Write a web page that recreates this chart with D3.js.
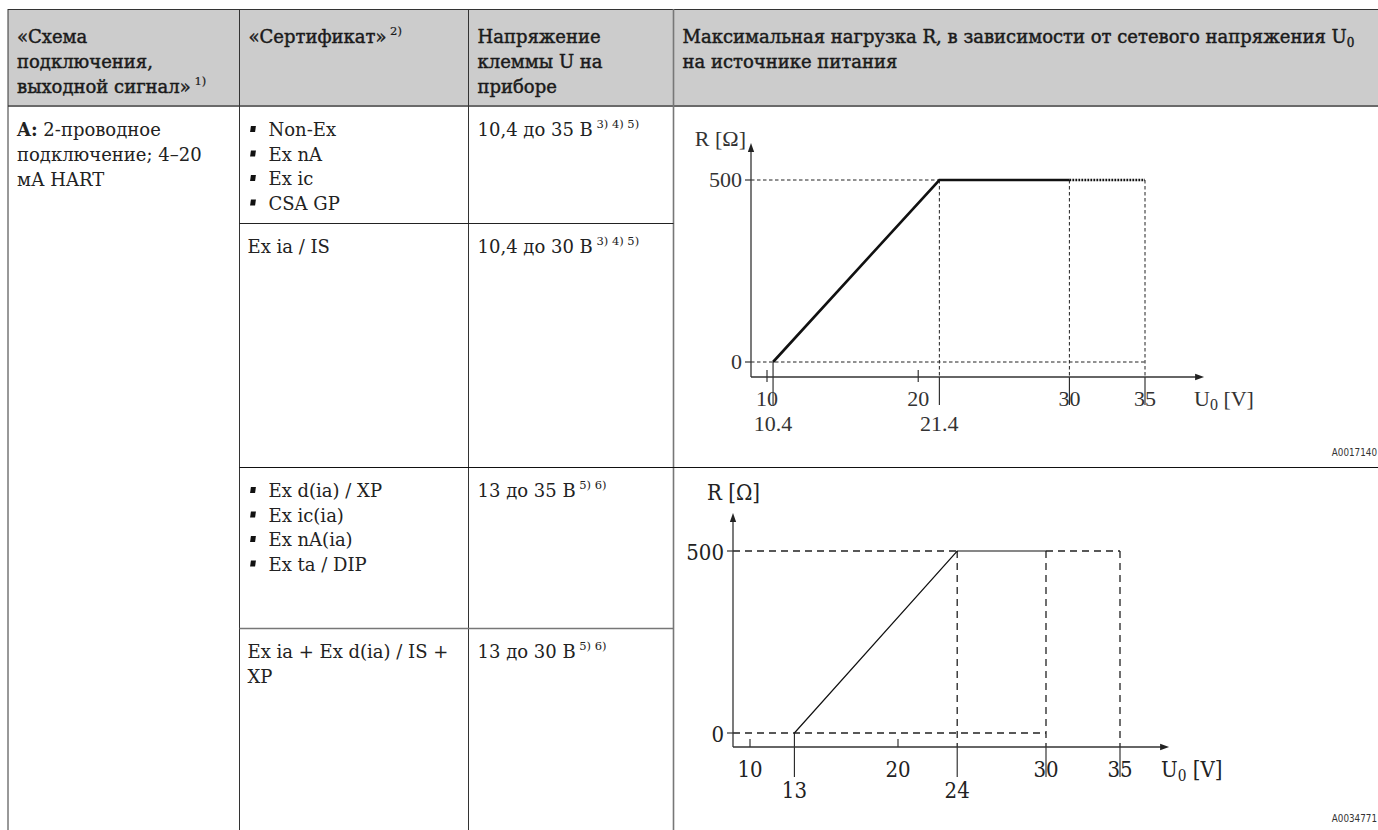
<!DOCTYPE html>
<html><head><meta charset="utf-8">
<script src="https://cdn.jsdelivr.net/npm/d3@7"></script>
<style>
html,body{margin:0;padding:0;background:#fff;}
svg{display:block;}
.tx{font-family:"DejaVu Serif",serif;font-size:18px;fill:#222;}
.hd{font-size:18px;fill:#1a1a1a;stroke:#1a1a1a;stroke-width:0.45px;}
.c1{font-family:"Liberation Serif","Times New Roman",serif;font-size:22px;fill:#333;}
.c2{font-family:"DejaVu Serif",serif;font-size:23px;fill:#222;}
</style></head><body>
<svg id="chart" width="1378" height="830"></svg>
<script>
// ---------- data ----------
const headers = [
  ["«Схема", "подключения,", "выходной сигнал»|1)"],
  ["«Сертификат»|2)"],
  ["Напряжение", "клеммы U на", "приборе"],
  ["Максимальная нагрузка R, в зависимости от сетевого напряжения U|0", "на источнике питания"]
];
const connection = ["A:| 2-проводное", "подключение; 4–20", "мА HART"];
const certificates = [
  {items: ["Non-Ex", "Ex nA", "Ex ic", "CSA GP"], bullets: true},
  {items: ["Ex ia / IS"], bullets: false},
  {items: ["Ex d(ia) / XP", "Ex ic(ia)", "Ex nA(ia)", "Ex ta / DIP"], bullets: true},
  {items: ["Ex ia + Ex d(ia) / IS +", "XP"], bullets: false}
];
const voltages = [
  ["10,4 до 35 В", "3)  4) 5)"],
  ["10,4 до 30 В", "3) 4) 5)"],
  ["13 до 35 В", "5) 6)"],
  ["13 до 30 В", "5) 6)"]
];
// chart 1
const c1TickMajor = [10, 20, 30, 35];
const c1TickMarks = [10.4, 21.4];
const c1Y = [0, 500];
const c1Curve = [[10.4, 0], [21.4, 500], [30, 500]];
const c1Dotted = [[30, 500], [35, 500]];
const c1Code = "A0017140";
// chart 2
const c2TickMajor = [10, 20, 30, 35];
const c2TickMarks = [13, 24];
const c2Y = [0, 500];
const c2Curve = [[13, 0], [24, 500], [30, 500]];
const c2Code = "A0034771";

// ---------- layout ----------
const svg = d3.select("#chart");
const colX = [8, 239.5, 468.5, 673.5];
const headTop = 9, headBot = 106;
const rowY = [106, 223, 467, 628, 830];

svg.append("rect").attr("x", colX[0]).attr("y", headTop).attr("width", 1378 - colX[0]).attr("height", headBot - headTop).attr("fill", "#cccccc");
svg.append("line").attr("x1", colX[0]).attr("x2", 1378).attr("y1", headTop + 0.5).attr("y2", headTop + 0.5).attr("stroke", "#333").attr("stroke-width", 1);
svg.append("line").attr("x1", colX[0]).attr("x2", 1378).attr("y1", headBot).attr("y2", headBot).attr("stroke", "#6a6a6a").attr("stroke-width", 2);
colX.forEach((x, i) => {
  svg.append("line").attr("x1", x).attr("x2", x).attr("y1", headTop).attr("y2", 830)
    .attr("stroke", i === 3 ? "#777" : "#333").attr("stroke-width", i === 3 ? 1.6 : 1);
});
[[1, rowY[1], colX[1], colX[3], "#222", 1], [2, rowY[2], colX[1], 1378, "#111", 1.2], [3, rowY[3], colX[1], colX[3], "#777", 1.6]].forEach(d => {
  svg.append("line").attr("x1", d[2]).attr("x2", d[3]).attr("y1", d[1] + 0.5).attr("y2", d[1] + 0.5)
    .attr("stroke", d[4]).attr("stroke-width", d[5]);
});

function textLine(x, y, s, cls) {
  const parts = s.split("|");
  const t = svg.append("text").attr("class", cls).attr("x", x).attr("y", y);
  t.append("tspan").text(parts[0]);
  if (parts.length > 1) t.append("tspan").attr("font-size", 11.5).attr("stroke-width", 0.2).attr("dy", -8).text("\u00a0" + parts[1]);
  return t;
}

// header text
const hlh = 25;
headers.forEach((lines, i) => {
  lines.forEach((s, j) => {
    const y = 43 + j * hlh, x = colX[i] + 9;
    if (i === 3 && j === 0) {
      const parts = s.split("|");
      const t = svg.append("text").attr("class", "tx hd").attr("x", x).attr("y", y);
      t.append("tspan").text(parts[0]);
      t.append("tspan").attr("font-size", 12).attr("dy", 4).text(parts[1]);
    } else textLine(x, y, s, "tx hd");
  });
});

// connection cell
const blh = 25;
connection.forEach((s, j) => {
  const t = svg.append("text").attr("class", "tx").attr("x", colX[0] + 9).attr("y", 136 + j * blh);
  const parts = s.split("|");
  if (parts.length > 1) {
    t.append("tspan").attr("font-weight", "bold").text(parts[0]);
    t.append("tspan").text(parts[1]);
  } else t.text(s);
});

// certificates + voltages
certificates.forEach((c, i) => {
  const y0 = rowY[i] + 30;
  const step = 24.5;
  c.items.forEach((s, j) => {
    const y = y0 + j * step;
    if (c.bullets) {
      svg.append("rect").attr("x", colX[1] + 11).attr("y", y - 10).attr("width", 5).attr("height", 6).attr("fill", "#111")
        .attr("transform", `skewX(-8)`).attr("transform-origin", `${colX[1] + 13} ${y - 7}`);
      svg.append("text").attr("class", "tx").attr("x", colX[1] + 29).attr("y", y).text(s);
    } else {
      svg.append("text").attr("class", "tx").attr("x", colX[1] + 8).attr("y", y).text(s);
    }
  });
  const v = voltages[i];
  const t = svg.append("text").attr("class", "tx").attr("x", colX[2] + 9).attr("y", y0);
  t.append("tspan").text(v[0]);
  t.append("tspan").attr("font-size", 11.5).attr("dy", -8).text("\u00a0" + v[1]);
});

// ---------- chart helper ----------
svg.append("defs").append("marker").attr("id", "arr").attr("viewBox", "0 0 10 10").attr("refX", 1).attr("refY", 5)
  .attr("markerWidth", 12).attr("markerHeight", 9).attr("markerUnits", "userSpaceOnUse").attr("orient", "auto")
  .append("path").attr("d", "M0,1.5 L10,5 L0,8.5 Z").attr("fill", "#222");

function drawChart(cfg) {
  const g = svg.append("g");
  const x = d3.scaleLinear().domain([10, 35]).range(cfg.xr);
  const y = d3.scaleLinear().domain([0, 500]).range(cfg.yr);
  const ax = cfg.axisX, ay = cfg.axisY;
  const ln = (x1, y1, x2, y2, st) => {
    const l = g.append("line").attr("x1", x1).attr("y1", y1).attr("x2", x2).attr("y2", y2)
      .attr("stroke", st.c || "#222").attr("stroke-width", st.w || 1);
    if (st.d) l.attr("stroke-dasharray", st.d);
    return l;
  };
  const dash = {c: "#222", w: cfg.dashW, d: cfg.dash};
  const solid = {c: "#222", w: 1.1};
  ln(ax, y(500), x(cfg.marks[1]), y(500), dash);
  ln(ax, y(0), x(cfg.zeroTo), y(0), dash);
  if (cfg.topRight) ln(x(30), y(500), x(35), y(500), dash);
  [cfg.marks[1], 30, 35].forEach(v => ln(x(v), y(500), x(v), ay, dash));
  ln(x(cfg.marks[0]), y(0), x(cfg.marks[0]), ay + cfg.longTick, solid);
  [cfg.marks[1], 30, 35].forEach(v => ln(x(v), ay, x(v), ay + cfg.longTick, solid));
  cfg.major.filter(v => v < 30).forEach(v => ln(x(v), ay - cfg.shortUp, x(v), ay + cfg.shortDown, solid));
  cfg.yv.forEach(v => ln(ax - 6, y(v), ax, y(v), solid));
  ln(ax, ay, ax, cfg.yTop + 9, {c: "#333", w: 1.3}).attr("marker-end", "url(#arr)");
  ln(ax, ay, cfg.xEnd - 9, ay, {c: "#333", w: 1.3}).attr("marker-end", "url(#arr)");
  const line = d3.line().x(d => x(d[0])).y(d => y(d[1]));
  g.append("path").attr("d", line(cfg.curve)).attr("fill", "none").attr("stroke", "#111").attr("stroke-width", cfg.curveW);
  if (cfg.dotted) g.append("path").attr("d", line(cfg.dotted)).attr("fill", "none").attr("stroke", "#111").attr("stroke-width", cfg.curveW).attr("stroke-dasharray", "1.8,1.2");
  const lbl = (px, py, s, anchor) => g.append("text").attr("class", cfg.cls)
    .attr("transform", `translate(${px},${py}) scale(${cfg.sx},1)`).attr("text-anchor", anchor || "middle").text(s);
  lbl(cfg.rLabel[0], cfg.rLabel[1], "R [Ω]", cfg.rLabel[2]);
  cfg.yv.forEach(v => lbl(ax - 9, y(v) + cfg.yOff, v, "end"));
  cfg.major.forEach(v => lbl(x(v), cfg.row1, v));
  cfg.marks.forEach(v => lbl(x(v), cfg.row2, String(v)));
  const u = g.append("text").attr("class", cfg.cls).attr("transform", `translate(${cfg.uX},${cfg.row1}) scale(${cfg.sx},1)`);
  u.append("tspan").text("U");
  u.append("tspan").attr("font-size", cfg.subSize).attr("dy", 4).text("0");
  u.append("tspan").attr("dy", -4).text(" [V]");
  g.append("text").attr("x", 1377).attr("y", cfg.codeY).attr("text-anchor", "end")
    .attr("font-family", "'DejaVu Sans',sans-serif").attr("font-size", 10).attr("fill", "#333")
    .attr("transform", `translate(${1377 * 0.12},0) scale(0.88,1)`).text(cfg.code);
}

drawChart({
  xr: [767, 1145], yr: [362, 180], axisX: 751, axisY: 377, yTop: 142, xEnd: 1205,
  marks: c1TickMarks, major: c1TickMajor, yv: c1Y, curve: c1Curve, dotted: c1Dotted,
  zeroTo: 35, topRight: false, dash: "3.5,2.5", dashW: 1, curveW: 2.6,
  longTick: 28, shortUp: 7, shortDown: 5, cls: "c1", sx: 1, yOff: 7,
  rLabel: [746, 146, "end"], row1: 406, row2: 431, uX: 1194, subSize: 16, code: c1Code, codeY: 456
});
drawChart({
  xr: [750, 1120], yr: [733, 551], axisX: 733, axisY: 747, yTop: 512, xEnd: 1170,
  marks: c2TickMarks, major: c2TickMajor, yv: c2Y, curve: c2Curve, dotted: null,
  zeroTo: 30, topRight: true, dash: "7,5", dashW: 1.3, curveW: 1.2,
  longTick: 30, shortUp: 8, shortDown: 0, cls: "c2", sx: 0.86, yOff: 9,
  rLabel: [707, 500, "start"], row1: 777, row2: 798, uX: 1161, subSize: 16, code: c2Code, codeY: 822
});
</script>
</body></html>
